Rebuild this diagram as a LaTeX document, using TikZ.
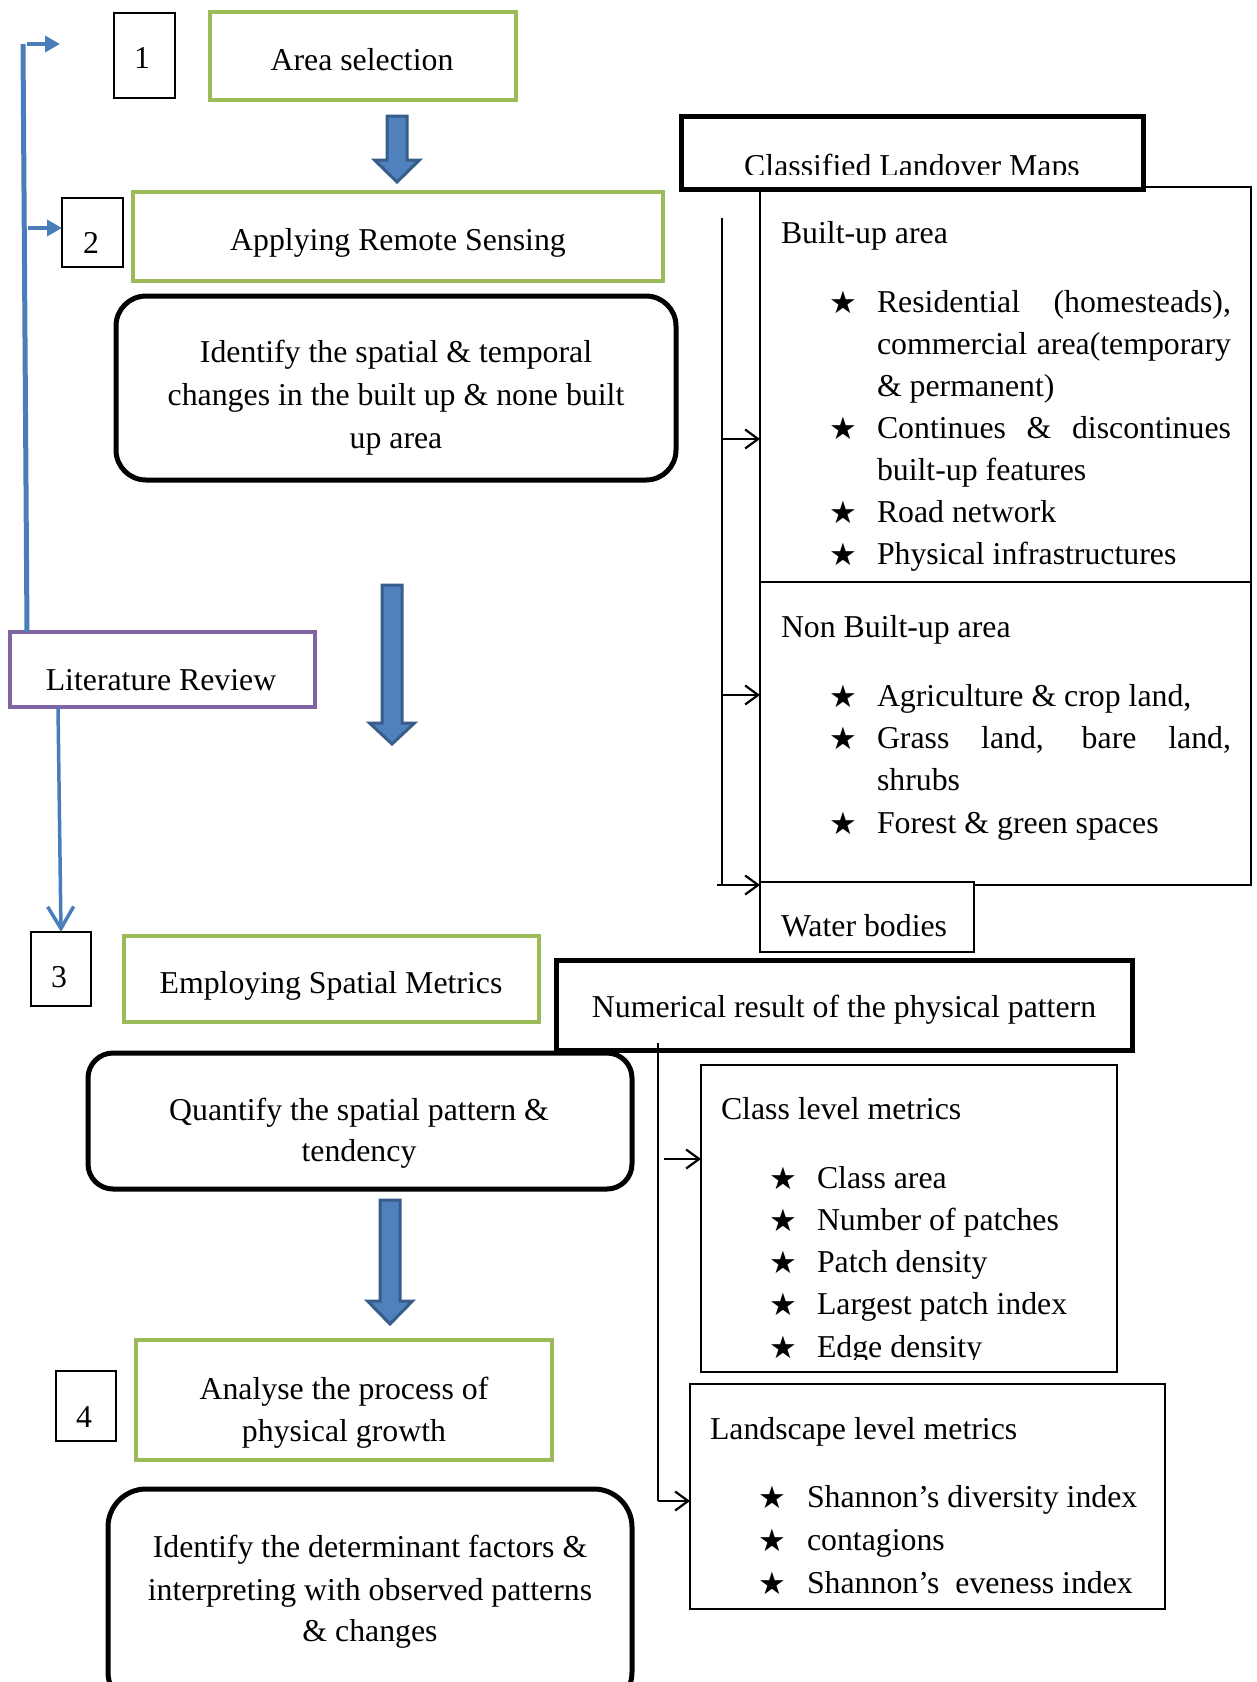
\documentclass[tikz,border=0pt]{standalone}
\usepackage{fontspec}
\setmainfont{Liberation Serif}
\newfontfamily\symfont{DejaVu Sans}
\usetikzlibrary{arrows.meta,calc,fit}
\definecolor{ogreen}{HTML}{9BBB59}
\definecolor{opurple}{HTML}{8064A2}
\definecolor{oblue}{HTML}{4F81BD}
\definecolor{odark}{HTML}{385D8A}
\definecolor{fbblue}{HTML}{4A7EBB}
\newcommand{\blockarr}[4]{%
  \draw[draw=odark, fill=oblue, line width=3pt]
    ({#1-10},#2) -- ({#1+10},#2) -- ({#1+10},#3) -- ({#1+22.5},#3) -- (#1,#4)
    -- ({#1-22.5},#3) -- ({#1-10},#3) -- cycle;}
\begin{document}
\begin{tikzpicture}[x=1pt,y=-1pt,
  every node/.style={font=\fontsize{31.8}{42}\selectfont, inner sep=0pt, outer sep=0pt},
  gbox/.style={draw=ogreen, line width=4.5pt},
  pbox/.style={draw=opurple, line width=4.5pt},
  numbox/.style={draw=black, line width=1.3pt},
  kbox/.style={draw=black, line width=5pt, fill=white},
  rbox/.style={draw=black, line width=5pt, rounded corners=#1pt},
  tbox/.style={draw=black, line width=1.3pt, fill=white},
  txt/.style={anchor=base},
  ltxt/.style={anchor=base west},
  bul/.style={anchor=base, yshift=-1pt, font=\symfont\fontsize{31}{31}\selectfont},
  fb/.style={draw=fbblue, line width=4pt},
  conn/.style={draw=black, line width=2.2pt, -{Straight Barb[length=13pt,width=19pt]}},
]
\useasboundingbox (0,0) rectangle (1257,1682);
\fill[white] (0,0) rectangle (1257,1682);

% ---------- left column ----------
\node[numbox, fit={(114,13) (175,98)}] (n1) {};
\node[txt] at (142,68) {1};
\node[gbox, fit={(210,12) (516,100)}] (area) {};
\node[txt] at (362,70) {Area selection};
\blockarr{397}{116}{160}{182}

\node[numbox, fit={(62,198) (123,267)}] (n2) {};
\node[txt] at (91,253) {2};
\node[gbox, fit={(133,192) (663,281)}] (rs) {};
\node[txt] at (398,250) {Applying Remote Sensing};

\node[rbox=30, fit={(116,296) (676,480)}] (idsp) {};
\node[txt] at (396,362) {Identify the spatial \& temporal};
\node[txt] at (396,405) {changes in the built up \& none built};
\node[txt] at (396,448) {up area};

\blockarr{392}{585}{723}{744}

\node[pbox, fit={(10,632) (315,707)}] (lit) {};
\node[txt] at (161,690) {Literature Review};

\node[numbox, fit={(31,932) (91,1006)}] (n3) {};
\node[txt] at (59,987) {3};
\node[gbox, fit={(124,936) (539,1022)}] (esm) {};
\node[txt] at (331,993) {Employing Spatial Metrics};

\node[rbox=25, fit={(88,1053) (632,1189)}] (quant) {};
\node[txt] at (359,1120) {Quantify the spatial pattern \&};
\node[txt] at (359,1161) {tendency};

\blockarr{390}{1200}{1301}{1324}

\node[numbox, fit={(56,1371) (116,1441)}] (n4) {};
\node[txt] at (84,1427) {4};
\node[gbox, fit={(136,1340) (552,1460)}] (ana) {};
\node[txt] at (344,1399) {Analyse the process of};
\node[txt] at (344,1441) {physical growth};

\node[rbox=38, fit={(108,1489) (632,1710)}] (det) {};
\node[txt] at (370,1557) {Identify the determinant factors \&};
\node[txt] at (370,1600) {interpreting with observed patterns};
\node[txt] at (370,1641) {\& changes};

% feedback loop
\coordinate (fbtop) at (23,44);
\coordinate (fbend) at (60,44);
\coordinate (fbmid) at (25,228);
\draw[fb, line width=5pt] ([xshift=17pt]lit.north west) -- (fbtop);
\draw[fb, -{Triangle[length=15pt,width=16pt]}] ([xshift=4pt]fbtop) -- (fbend);
\draw[fb, -{Triangle[length=15pt,width=16pt]}] ([xshift=3pt]fbmid) -- (fbmid -| n2.west);
\draw[fb, line width=3.5pt, -{Straight Barb[length=22pt,width=26pt]}] ([xshift=48pt]lit.south west) -- (n3.north);

% ---------- classified maps ----------
\node[tbox, fit={(760,187) (1251,582)}] (bu) {};
\node[tbox, fit={(760,582) (1251,885)}] (nbu) {};
\node[tbox, fit={(760,882) (974,952)}] (wat) {};
\node[kbox, fit={(681,116) (1143,189)}] (clmap) {};
\begin{scope}
  \clip (684,119) rectangle (1140,174);
  \node[txt] at (912,176) {Classified Landover Maps};
\end{scope}

\node[ltxt] at (781,243) {Built-up area};
\node[bul] at (843,312) {★};
\node[ltxt] at (877,312) {\makebox[354pt][s]{Residential (homesteads),}};
\node[ltxt] at (877,354) {\makebox[354pt][s]{commercial area(temporary}};
\node[ltxt] at (877,396) {\& permanent)};
\node[bul] at (843,438) {★};
\node[ltxt] at (877,438) {\makebox[354pt][s]{Continues \& discontinues}};
\node[ltxt] at (877,480) {built-up features};
\node[bul] at (843,522) {★};
\node[ltxt] at (877,522) {Road network};
\node[bul] at (843,564) {★};
\node[ltxt] at (877,564) {Physical infrastructures};

\node[ltxt] at (781,637) {Non Built-up area};
\node[bul] at (843,706) {★};
\node[ltxt] at (877,706) {Agriculture \& crop land,};
\node[bul] at (843,748) {★};
\node[ltxt] at (877,748) {\makebox[354pt][s]{Grass land, bare land,}};
\node[ltxt] at (877,790) {shrubs};
\node[bul] at (843,833) {★};
\node[ltxt] at (877,833) {Forest \& green spaces};

\node[ltxt] at (781,936) {Water bodies};

\coordinate (vt) at (722,218);
\coordinate (vb) at (722,885);
\coordinate (vbl) at (717,885);
\coordinate (j1) at (722,439);
\coordinate (j2) at (722,695);
\draw[line width=2pt] (vt) -- (vb);
\draw[conn] (j1) -- (j1 -| bu.west);
\draw[conn] (j2) -- (j2 -| nbu.west);
\draw[conn] (vbl) -- (vb -| wat.west);

% ---------- numerical results ----------
\node[kbox, fit={(556,960) (1132,1050)}] (num) {};
\node[txt] at (844,1017) {Numerical result of the physical pattern};

\node[tbox, fit={(701,1065) (1117,1372)}] (clvl) {};
\begin{scope}
  \clip (702,1067) rectangle (1116,1359);
  \node[ltxt] at (721,1119) {Class level metrics};
  \node[bul] at (783,1188) {★};
  \node[ltxt] at (817,1188) {Class area};
  \node[bul] at (783,1230) {★};
  \node[ltxt] at (817,1230) {Number of patches};
  \node[bul] at (783,1272) {★};
  \node[ltxt] at (817,1272) {Patch density};
  \node[bul] at (783,1314) {★};
  \node[ltxt] at (817,1314) {Largest patch index};
  \node[bul] at (783,1357) {★};
  \node[ltxt] at (817,1357) {Edge density};
\end{scope}

\node[tbox, fit={(690,1384) (1165,1609)}] (land) {};
\node[ltxt] at (710,1439) {Landscape level metrics};
\node[bul] at (772,1507) {★};
\node[ltxt] at (807,1507) {Shannon’s diversity index};
\node[bul] at (772,1550) {★};
\node[ltxt] at (807,1550) {contagions};
\node[bul] at (772,1593) {★};
\node[ltxt] at (807,1593) {Shannon’s\ \ eveness index};

\coordinate (v2t) at (658,1043);
\coordinate (j5) at (658,1501);
\coordinate (j4) at (664,1159);
\draw[line width=2pt] (v2t) -- (j5);
\draw[conn] (j5) -- (j5 -| land.west);
\draw[conn] (j4) -- (j4 -| clvl.west);
\end{tikzpicture}
\end{document}
